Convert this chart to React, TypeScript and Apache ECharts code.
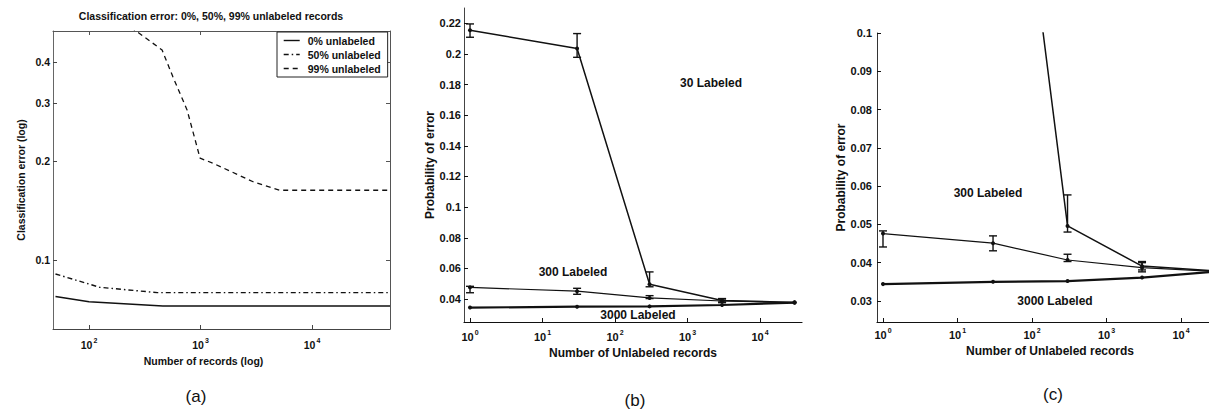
import { useEffect, useRef } from 'react';
import * as echarts from 'echarts';

const FONT = '"Liberation Sans", Arial, Helvetica, sans-serif';
const INK = '#111';

// ---------- Panel (a): classification error vs number of records ----------
const legendNamesA = ['0% unlabeled', '50% unlabeled', '99% unlabeled'];
const recordsA0 = [50, 100, 460, 50000];
const errorA0 = [0.0775, 0.0747, 0.0725, 0.0725];
const recordsA50 = [50, 125, 410, 50000];
const errorA50 = [0.0907, 0.0826, 0.0796, 0.0796];
const recordsA99 = [50, 150, 258, 452, 566, 757, 990, 1290, 2960, 5130, 50000];
const errorA99 = [0.62, 0.56, 0.5, 0.435, 0.36, 0.286, 0.204, 0.197, 0.173, 0.163, 0.163];
const xTicksA = [100, 1000, 10000];
const yTicksA = [0.1, 0.2, 0.3, 0.4];

// ---------- Panels (b), (c): probability of error vs unlabeled records ----------
const unlabeled = [1, 30, 300, 3000, 30000];
const err30 = [0.2155, 0.2035, 0.0496, 0.0391, 0.0378];
const err30Low = [0.2109, 0.1978, 0.048, 0.0381];
const err30High = [0.2196, 0.2133, 0.0577, 0.0403];
const err300 = [0.0476, 0.0451, 0.0407, 0.0387, 0.0377];
const err300Low = [0.0441, 0.0431, 0.0403, 0.0376];
const err300High = [0.0483, 0.047, 0.0422, 0.04];
const err3000 = [0.0344, 0.035, 0.0352, 0.0361, 0.0377];
const xTicksBC = [1, 10, 100, 1000, 10000];
const yTicksB = [0.04, 0.06, 0.08, 0.1, 0.12, 0.14, 0.16, 0.18, 0.2, 0.22];
const yTicksC = [0.03, 0.04, 0.05, 0.06, 0.07, 0.08, 0.09, 0.1];

const pairs = (xs: number[], ys: number[]) => xs.map((x, i) => [x, ys[i]]);
const bars = (xs: number[], lo: number[], hi: number[]) => lo.map((l, i) => [xs[i], l, hi[i]]);

const powLabel = (v: number) => `{b|10}{s|${Math.round(Math.log10(v))}}`;
const decLabel = (v: number) => String(parseFloat(Number(v).toFixed(3)));
const richPow = (size: number) => ({
  b: { fontSize: size, fontWeight: 'bold', fontFamily: FONT, color: INK, lineHeight: 16, verticalAlign: 'middle' },
  s: { fontSize: 7, fontWeight: 'bold', fontFamily: FONT, color: INK, verticalAlign: 'top', padding: [0, 0, 0, 1] },
});

const lineAxis = (color = INK, width = 1) => ({ show: true, onZero: false, lineStyle: { color, width } });

function errorBars(xIdx: number, yIdx: number, data: number[][], name: string) {
  return {
    type: 'custom',
    name,
    xAxisIndex: xIdx,
    yAxisIndex: yIdx,
    clip: true,
    silent: true,
    z: 4,
    data,
    encode: { x: 0, y: [1, 2] },
    renderItem: (_p: any, api: any) => {
      const x = api.value(0);
      const lo = api.coord([x, api.value(1)]);
      const hi = api.coord([x, api.value(2)]);
      const w = 4;
      const style = { stroke: INK, lineWidth: 1.4 };
      return {
        type: 'group',
        children: [
          { type: 'line', shape: { x1: lo[0], y1: lo[1], x2: hi[0], y2: hi[1] }, style },
          { type: 'line', shape: { x1: lo[0] - w, y1: lo[1], x2: lo[0] + w, y2: lo[1] }, style },
          { type: 'line', shape: { x1: hi[0] - w, y1: hi[1], x2: hi[0] + w, y2: hi[1] }, style },
        ],
      };
    },
  };
}

function curve(name: string, xIdx: number, yIdx: number, data: number[][], width: number) {
  return {
    type: 'line',
    name,
    xAxisIndex: xIdx,
    yAxisIndex: yIdx,
    data,
    clip: true,
    symbol: 'circle',
    symbolSize: 4,
    lineStyle: { color: INK, width },
    itemStyle: { color: INK },
    z: 3,
  };
}

const annot = (text: string, x: number, y: number, size: number, weight = 'bold') => ({
  type: 'text',
  x,
  y,
  silent: true,
  style: {
    text,
    fill: INK,
    font: `${weight} ${size}px ${FONT}`,
    align: 'center',
    verticalAlign: 'middle',
  },
});

const nameStyle = (size: number, padding?: number[]) => ({
  fontSize: size,
  fontWeight: 'bold',
  fontFamily: FONT,
  color: INK,
  ...(padding ? { padding } : {}),
});

const yLabel = (values: number[], margin: number, size = 11) => ({
  customValues: values,
  formatter: decLabel,
  margin,
  fontSize: size,
  fontWeight: 'bold',
  fontFamily: FONT,
  color: INK,
});

const option: any = {
  animation: false,
  backgroundColor: '#fff',
  title: [
    {
      text: 'Classification error: 0%, 50%, 99% unlabeled records',
      left: 211,
      top: 10,
      textAlign: 'center',
      padding: 0,
      textStyle: { fontSize: 10.5, fontWeight: 'bold', fontFamily: FONT, color: INK },
    },
  ],
  legend: {
    data: legendNamesA,
    left: 277,
    top: 32,
    orient: 'vertical',
    selectedMode: false,
    backgroundColor: '#fff',
    borderColor: '#222',
    borderWidth: 1,
    borderRadius: 0,
    padding: [3, 7, 3, 6],
    itemGap: 3,
    itemWidth: 16,
    itemHeight: 10,
    itemStyle: { opacity: 0 },
    lineStyle: { color: INK, width: 1.4 },
    textStyle: { fontSize: 10.5, fontWeight: 'bold', fontFamily: FONT, color: INK, padding: [0, 0, 0, 3] },
  },
  grid: [
    { left: 53, top: 31, width: 337, height: 298 },
    { left: 464, top: 8, width: 338, height: 314 },
    { left: 877, top: 33, width: 332, height: 289 },
  ],
  xAxis: [
    {
      type: 'log',
      gridIndex: 0,
      min: 47.5,
      max: 50000,
      name: 'Number of records (log)',
      nameLocation: 'middle',
      nameGap: 22,
      nameTextStyle: nameStyle(10.5, [0, 36, 0, 0]),
      axisLine: lineAxis('#444'),
      axisTick: { inside: true, length: 4, customValues: xTicksA, lineStyle: { color: '#444' } },
      axisLabel: { customValues: xTicksA, formatter: powLabel, rich: richPow(10.5), margin: 8 },
      splitLine: { show: false },
    },
    {
      type: 'log',
      gridIndex: 0,
      position: 'top',
      min: 47.5,
      max: 50000,
      axisLine: lineAxis('#555'),
      axisTick: { inside: true, length: 4, customValues: xTicksA, lineStyle: { color: '#555' } },
      axisLabel: { show: false },
      splitLine: { show: false },
    },
    {
      type: 'log',
      gridIndex: 1,
      min: 0.826,
      max: 38000,
      name: 'Number of Unlabeled records',
      nameLocation: 'middle',
      nameGap: 25,
      nameTextStyle: nameStyle(12),
      axisLine: lineAxis(INK, 1.2),
      axisTick: { inside: true, length: 4, customValues: xTicksBC, lineStyle: { color: INK } },
      axisLabel: { customValues: xTicksBC, formatter: powLabel, rich: richPow(11), margin: 7 },
      splitLine: { show: false },
    },
    {
      type: 'log',
      gridIndex: 2,
      min: 0.831,
      max: 23770,
      name: 'Number of Unlabeled records',
      nameLocation: 'middle',
      nameGap: 20,
      nameTextStyle: nameStyle(12, [0, 0, 0, 14]),
      axisLine: lineAxis(INK, 1.2),
      axisTick: { inside: true, length: 4, customValues: xTicksBC, lineStyle: { color: INK } },
      axisLabel: { customValues: xTicksBC, formatter: powLabel, rich: richPow(11), margin: 5 },
      splitLine: { show: false },
    },
  ],
  yAxis: [
    {
      type: 'log',
      gridIndex: 0,
      min: 0.0617,
      max: 0.497,
      name: 'Classification error (log)',
      nameLocation: 'middle',
      nameGap: 27,
      nameTextStyle: nameStyle(10.5),
      axisLine: lineAxis('#666'),
      axisTick: { inside: true, length: 4, customValues: yTicksA, lineStyle: { color: '#444' } },
      axisLabel: yLabel(yTicksA, 3, 10.5),
      splitLine: { show: false },
    },
    {
      type: 'log',
      gridIndex: 0,
      position: 'right',
      min: 0.0617,
      max: 0.497,
      axisLine: lineAxis('#555'),
      axisTick: { inside: true, length: 4, customValues: yTicksA, lineStyle: { color: '#555' } },
      axisLabel: { show: false },
      splitLine: { show: false },
    },
    {
      type: 'value',
      gridIndex: 1,
      min: 0.025,
      max: 0.23,
      name: 'Probability of error',
      nameLocation: 'middle',
      nameGap: 26,
      nameTextStyle: nameStyle(12),
      axisLine: lineAxis('#444'),
      axisTick: { inside: true, length: 4, customValues: yTicksB, lineStyle: { color: INK } },
      axisLabel: yLabel(yTicksB, 3),
      splitLine: { show: false },
    },
    {
      type: 'value',
      gridIndex: 2,
      min: 0.0245,
      max: 0.1,
      name: 'Probability of error',
      nameLocation: 'middle',
      nameGap: 28,
      nameTextStyle: nameStyle(12),
      axisLine: lineAxis('#333'),
      axisTick: { inside: true, length: 4, customValues: yTicksC, lineStyle: { color: INK } },
      axisLabel: yLabel(yTicksC, 5),
      splitLine: { show: false },
    },
  ],
  series: [
    {
      type: 'line',
      name: legendNamesA[0],
      xAxisIndex: 0,
      yAxisIndex: 0,
      data: pairs(recordsA0, errorA0),
      symbol: 'none',
      clip: true,
      lineStyle: { color: INK, width: 1.4, type: 'solid' },
      itemStyle: { color: INK },
    },
    {
      type: 'line',
      name: legendNamesA[1],
      xAxisIndex: 0,
      yAxisIndex: 0,
      data: pairs(recordsA50, errorA50),
      symbol: 'none',
      clip: true,
      lineStyle: { color: INK, width: 1.4, type: [5, 3, 1.5, 3] },
      itemStyle: { color: INK },
    },
    {
      type: 'line',
      name: legendNamesA[2],
      xAxisIndex: 0,
      yAxisIndex: 0,
      data: pairs(recordsA99, errorA99),
      symbol: 'none',
      clip: true,
      lineStyle: { color: INK, width: 1.3, type: [5, 4] },
      itemStyle: { color: INK },
    },
    // panel (b)
    curve('30 Labeled (b)', 2, 2, pairs(unlabeled, err30), 1.5),
    curve('300 Labeled (b)', 2, 2, pairs(unlabeled, err300), 1.2),
    curve('3000 Labeled (b)', 2, 2, pairs(unlabeled, err3000), 2.2),
    errorBars(2, 2, bars(unlabeled, err30Low, err30High), '30 Labeled bars (b)'),
    errorBars(2, 2, bars(unlabeled, err300Low, err300High), '300 Labeled bars (b)'),
    // panel (c)
    curve('30 Labeled (c)', 3, 3, pairs(unlabeled, err30), 1.5),
    curve('300 Labeled (c)', 3, 3, pairs(unlabeled, err300), 1.2),
    curve('3000 Labeled (c)', 3, 3, pairs(unlabeled, err3000), 2.2),
    errorBars(3, 3, bars(unlabeled, err30Low, err30High), '30 Labeled bars (c)'),
    errorBars(3, 3, bars(unlabeled, err300Low, err300High), '300 Labeled bars (c)'),
  ],
  graphic: [
    annot('30 Labeled', 711, 83, 12),
    annot('300 Labeled', 573, 272, 12),
    annot('3000 Labeled', 638, 315, 12),
    annot('300 Labeled', 988, 193, 12),
    annot('3000 Labeled', 1055, 301, 12),
    annot('(a)', 196, 396, 17, 'normal'),
    annot('(b)', 635, 400, 17, 'normal'),
    annot('(c)', 1053, 394, 17, 'normal'),
  ],
};

export default function App() {
  const ref = useRef<HTMLDivElement>(null);
  useEffect(() => {
    if (!ref.current) return;
    const chart = echarts.init(ref.current, undefined, { renderer: 'svg' });
    chart.setOption(option);
    return () => chart.dispose();
  }, []);
  return (
    <div
      ref={ref}
      style={{ position: 'absolute', left: 0, top: 0, width: 1209, height: 412, background: '#fff' }}
    />
  );
}
